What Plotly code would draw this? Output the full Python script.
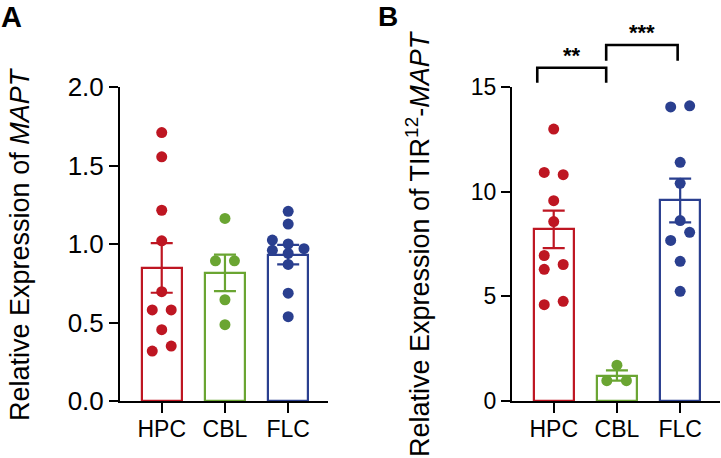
import numpy as np
import plotly.graph_objects as go

# ---------------- data ----------------
groups = ["HPC", "CBL", "FLC"]

a_hpc = [1.71, 1.555, 1.215, 1.02, 0.696, 0.58, 0.58, 0.454, 0.35, 0.318]
a_cbl = [1.163, 0.893, 0.893, 0.645, 0.486]
a_flc = [1.208, 1.127, 1.025, 1.0, 0.96, 0.97, 0.94, 0.87, 0.687, 0.537]

b_hpc = [12.99, 10.92, 10.81, 9.57, 8.57, 6.95, 6.52, 6.29, 4.76, 4.6]
b_cbl = [1.71, 0.97, 0.97]
b_flc = [14.05, 14.1, 11.4, 10.4, 8.62, 8.06, 7.67, 6.67, 5.24]

# horizontal scatter (jitter) of the dots, in category units
a_hpc_off = [0, 0, 0, 0, 0, -0.15, 0.15, 0, 0.15, -0.15]
a_cbl_off = [0, -0.15, 0.15, 0, 0]
a_flc_off = [0, 0, -0.25, 0, -0.25, 0.25, 0, 0, 0, 0]
b_hpc_off = [0, -0.15, 0.15, 0, 0, -0.15, 0.15, -0.15, 0.15, -0.15]
b_cbl_off = [0, -0.16, 0.15]
b_flc_off = [-0.15, 0.15, 0, 0, 0, 0.15, -0.15, 0, 0]

a_ticks = [0.0, 0.5, 1.0, 1.5, 2.0]
b_ticks = [0, 5, 10, 15]

sig_pairs = [(-0.26, 0.83, "**"), (0.83, 1.96, "***")]

colors = ["#BE1622", "#6AA532", "#2A3F8F"]
FONT = "Arial, Liberation Sans, sans-serif"

fig = go.Figure()


def add_panel(datasets, offsets, xa, ya):
    for i, (vals, offs) in enumerate(zip(datasets, offsets)):
        v = np.array(vals)
        mean = v.mean()
        sem = v.std(ddof=1) / np.sqrt(len(v))
        c = colors[i]
        fig.add_trace(go.Bar(x=[i], y=[mean], width=0.63, xaxis=xa, yaxis=ya,
                             marker=dict(color="white", line=dict(color=c, width=2.2)),
                             showlegend=False, hoverinfo="skip"))
        fig.add_trace(go.Scatter(x=[i], y=[mean], mode="markers", xaxis=xa, yaxis=ya,
                                 marker=dict(size=1, color="rgba(0,0,0,0)"),
                                 error_y=dict(type="data", array=[sem], visible=True,
                                              color=c, thickness=2.2, width=11),
                                 showlegend=False, hoverinfo="skip"))
        fig.add_trace(go.Scatter(x=[i + o for o in offs], y=vals, mode="markers",
                                 xaxis=xa, yaxis=ya, cliponaxis=False,
                                 marker=dict(size=11, color=c, line=dict(width=0)),
                                 showlegend=False))


add_panel([a_hpc, a_cbl, a_flc], [a_hpc_off, a_cbl_off, a_flc_off], "x", "y")
add_panel([b_hpc, b_cbl, b_flc], [b_hpc_off, b_cbl_off, b_flc_off], "x2", "y2")

xcommon = dict(range=[-0.66, 2.63], tickvals=[0, 1, 2], ticktext=groups,
               showline=True, linecolor="black", linewidth=2, ticks="outside",
               ticklen=10, tickwidth=2, tickcolor="black", showgrid=False,
               zeroline=False, automargin=False, ticklabelstandoff=-4,
               tickfont=dict(family=FONT, size=23, color="black"))
ycommon = dict(showline=True, linecolor="black", linewidth=2, ticks="outside",
               ticklen=9, tickwidth=2, tickcolor="black", showgrid=False,
               zeroline=False, automargin=False)

fig.update_layout(
    width=721, height=458,
    margin=dict(l=120, r=1, t=87, b=57, autoexpand=False),
    plot_bgcolor="white", paper_bgcolor="white",
    bargap=0, barmode="overlay",
    xaxis=dict(domain=[0, 0.3467], anchor="y", **xcommon),
    yaxis=dict(domain=[0, 1], anchor="x", range=[0, 2], tickvals=a_ticks,
               ticktext=[f"{t:.1f}" for t in a_ticks],
               tickfont=dict(family=FONT, size=26, color="black"), **ycommon),
    xaxis2=dict(domain=[0.6533, 1.0], anchor="y2", **xcommon),
    yaxis2=dict(domain=[0, 1], anchor="x2", range=[0, 15], tickvals=b_ticks,
                tickfont=dict(family=FONT, size=23, color="black"), **ycommon),
    showlegend=False,
)

# significance brackets
levels = [(1.0615, 1.0137), (1.1338, 1.0838)]
star_y = [1.100, 1.175]
for (x0, x1, label), (top, leg), sy in zip(sig_pairs, levels, star_y):
    fig.add_shape(type="path", xref="x2", yref="y2 domain",
                  path=f"M {x0} {leg} L {x0} {top} L {x1} {top} L {x1} {leg}",
                  line=dict(color="black", width=2.6))
    fig.add_annotation(x=(x0 + x1) / 2, y=sy, xref="x2", yref="y2 domain",
                       text=f"<b>{label}</b>", showarrow=False,
                       font=dict(family=FONT, size=22, color="black"),
                       xanchor="center", yanchor="middle")

# axis titles
fig.add_annotation(x=-0.1667, y=0.5, xref="paper", yref="paper", textangle=-90,
                   text="Relative Expression of <i>MAPT</i>", showarrow=False,
                   font=dict(family=FONT, size=27, color="black"),
                   xanchor="center", yanchor="middle")
fig.add_annotation(x=0.4967, y=0.5, xref="paper", yref="paper", textangle=-90,
                   text="Relative Expression of TIR<sup>12</sup>-<i>MAPT</i>",
                   showarrow=False, font=dict(family=FONT, size=27, color="black"),
                   xanchor="center", yanchor="middle")

# panel letters
fig.add_annotation(x=-0.2, y=1.277, xref="paper", yref="paper", text="<b>A</b>",
                   showarrow=False, borderpad=0,
                   font=dict(family=FONT, size=29, color="black"),
                   xanchor="left", yanchor="top")
fig.add_annotation(x=0.4283, y=1.277, xref="paper", yref="paper", text="<b>B</b>",
                   showarrow=False, borderpad=0,
                   font=dict(family=FONT, size=28, color="black"),
                   xanchor="left", yanchor="top")

fig.write_html("out.html", config={"displayModeBar": False},
               post_script="document.body.style.margin='0px';")
